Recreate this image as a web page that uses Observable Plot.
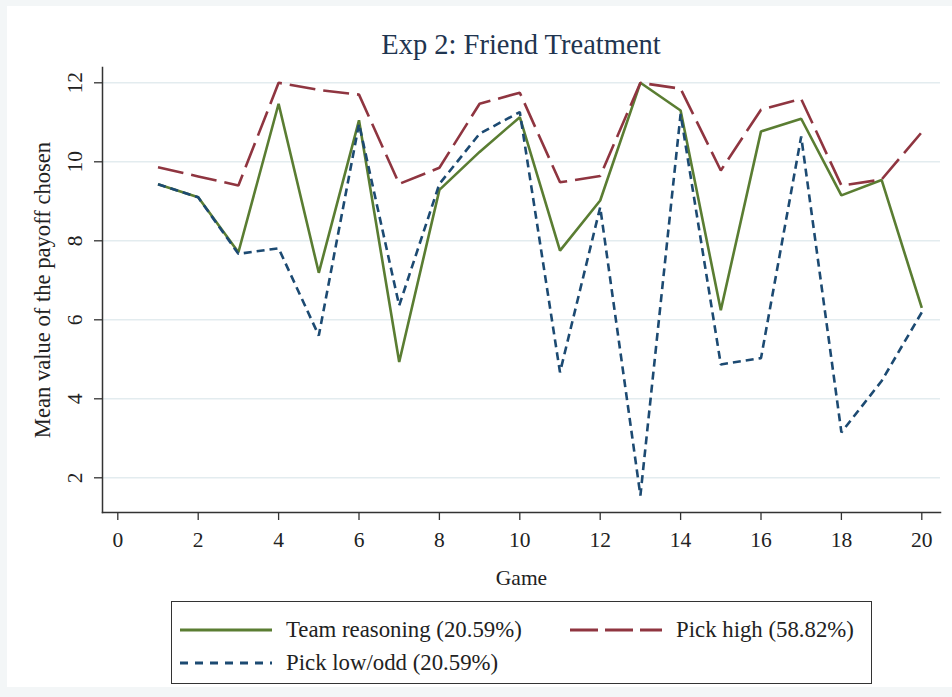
<!DOCTYPE html>
<html>
<head>
<meta charset="utf-8">
<script src="https://cdn.jsdelivr.net/npm/d3@7"></script>
<script src="https://cdn.jsdelivr.net/npm/@observablehq/plot@0.6"></script>
<style>
  html, body { margin: 0; padding: 0; background: #f3f6f7; }
  #wrap { position: relative; width: 952px; height: 697px; overflow: hidden; font-family: "Liberation Serif", "DejaVu Serif", serif; }
  #panel { position: absolute; left: 7px; top: 6px; width: 945px; height: 681px; background: #fff; }
  #chart { position: absolute; left: 0; top: 0; }
  #title { position: absolute; left: 0; width: 1042px; top: 29px; text-align: center; font-size: 28.5px; line-height: 32px; color: #1f3550; }
  #legend { position: absolute; left: 171px; top: 601px; width: 701px; height: 83px; border: 1.5px solid #333; background: #fff; box-sizing: border-box; }
  .item { position: absolute; display: flex; align-items: center; font-size: 22.8px; color: #222; line-height: 24px; }
  .item svg { margin-right: 14px; }
</style>
</head>
<body>
<div id="wrap">
  <div id="panel"></div>
  <div id="chart"></div>
  <div id="title"></div>
  <div id="legend"></div>
</div>
<script>
const titleText = "Exp 2: Friend Treatment";
const xLabel = "Game";
const yLabel = "Mean value of the payoff chosen";
const games = [1,2,3,4,5,6,7,8,9,10,11,12,13,14,15,16,17,18,19,20];
const teamReasoning = [9.43, 9.10, 7.71, 11.47, 7.19, 11.05, 4.93, 9.29, 10.25, 11.13, 7.75, 9.02, 12.0, 11.30, 6.24, 10.77, 11.09, 9.15, 9.54, 6.30];
const pickHigh = [9.86, 9.63, 9.40, 12.0, 11.82, 11.70, 9.44, 9.85, 11.47, 11.75, 9.48, 9.64, 12.0, 11.85, 9.78, 11.32, 11.59, 9.40, 9.55, 10.75];
const pickLowOdd = [9.43, 9.10, 7.67, 7.81, 5.60, 10.96, 6.36, 9.44, 10.71, 11.26, 4.67, 8.85, 1.55, 11.21, 4.87, 5.03, 10.64, 3.15, 4.45, 6.19];
const xTicks = [0,2,4,6,8,10,12,14,16,18,20];
const yTicks = [2,4,6,8,10,12];
const seriesNames = ["Team reasoning (20.59%)", "Pick high (58.82%)", "Pick low/odd (20.59%)"];
const seriesColors = ["#5a7d32", "#8f3540", "#1c4a72"];
const seriesDash = [null, "26,8", "8,5"];

const seriesValues = [teamReasoning, pickHigh, pickLowOdd];
const rows = [];
seriesValues.forEach((vals, s) => games.forEach((g, i) => rows.push({series: seriesNames[s], game: g, value: vals[i]})));

const lineMarks = seriesNames.map((name, s) =>
  Plot.line(rows.filter(r => r.series === name), {
    x: "game", y: "value",
    stroke: seriesColors[s], strokeWidth: 2.6,
    strokeDasharray: seriesDash[s] || undefined,
    strokeLinejoin: "miter", strokeLinecap: "butt"
  })
);

const chart = Plot.plot({
  width: 952,
  height: 697,
  marginLeft: 102,
  marginRight: 12,
  marginTop: 67,
  marginBottom: 185,
  style: { background: "transparent", fontFamily: "Liberation Serif, DejaVu Serif, serif", color: "#222" },
  x: { domain: [0, 20], range: [117.3, 921.3] },
  y: { domain: [2, 12], range: [477.3, 82.3] },
  marks: [
    Plot.gridY(yTicks, { stroke: "#e3ecef", strokeOpacity: 1, strokeWidth: 1.5 }),
    Plot.frame({ anchor: "left", stroke: "#333", strokeWidth: 1.5 }),
    Plot.frame({ anchor: "bottom", stroke: "#333", strokeWidth: 1.5 }),
    Plot.axisX({ ticks: xTicks, tickSize: 8, tickPadding: 11, fontSize: 21.5, stroke: "#333", strokeWidth: 1.3,
      label: xLabel, labelAnchor: "center", labelArrow: "none", labelOffset: 72, tickFormat: d => String(d) }),
    Plot.axisY({ ticks: yTicks, tickSize: 8, stroke: "#333", strokeWidth: 1.3, text: null, label: null }),
    Plot.text(yTicks, { y: d => d, frameAnchor: "left", dx: -27, rotate: -90, text: d => String(d), fontSize: 21.5, fill: "#222", textAnchor: "middle", lineAnchor: "middle" }),
    Plot.text([yLabel], { frameAnchor: "left", dx: -60, rotate: -90, text: d => d, fontSize: 22.6, fill: "#222", textAnchor: "middle", lineAnchor: "middle" }),
    ...lineMarks
  ]
});
document.getElementById("chart").appendChild(chart);
document.getElementById("title").textContent = titleText;

// Legend
const legend = document.getElementById("legend");
const positions = [[8, 28], [398, 28], [8, 61]];
seriesNames.forEach((name, s) => {
  const item = document.createElement("div");
  item.className = "item";
  item.style.left = positions[s][0] + "px";
  item.style.top = (positions[s][1] - 12) + "px";
  const ns = "http://www.w3.org/2000/svg";
  const svg = document.createElementNS(ns, "svg");
  svg.setAttribute("width", 92); svg.setAttribute("height", 24);
  const ln = document.createElementNS(ns, "line");
  ln.setAttribute("x1", 0); ln.setAttribute("x2", 92); ln.setAttribute("y1", 12); ln.setAttribute("y2", 12);
  ln.setAttribute("stroke", seriesColors[s]); ln.setAttribute("stroke-width", 2.8);
  if (seriesDash[s]) ln.setAttribute("stroke-dasharray", s === 2 ? "8,7" : "28,7");
  svg.appendChild(ln);
  item.appendChild(svg);
  const t = document.createElement("span");
  t.textContent = name;
  item.appendChild(t);
  legend.appendChild(item);
});
</script>
</body>
</html>
